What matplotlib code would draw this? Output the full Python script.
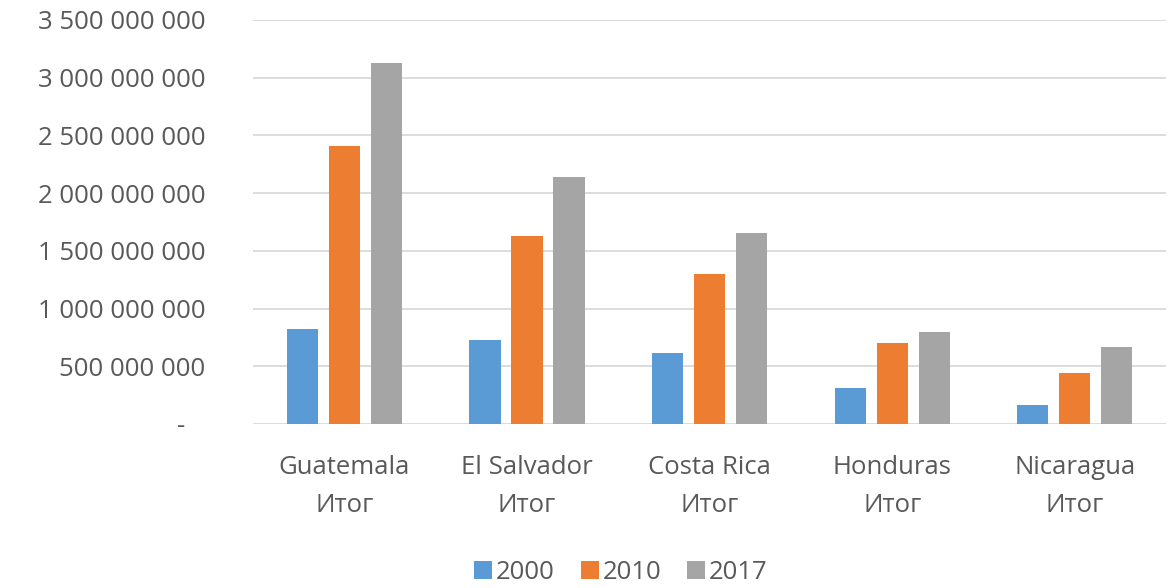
import matplotlib
matplotlib.use("Agg")
import matplotlib.pyplot as plt
import numpy as np
from matplotlib.ticker import FuncFormatter, MultipleLocator

categories = ["Guatemala\nИтог", "El Salvador\nИтог", "Costa Rica\nИтог", "Honduras\nИтог", "Nicaragua\nИтог"]
series_names = ["2000", "2010", "2017"]
v2000 = [0.82e9, 0.73e9, 0.615e9, 0.31e9, 0.162e9]
v2010 = [2.41e9, 1.63e9, 1.30e9, 0.705e9, 0.44e9]
v2017 = [3.13e9, 2.14e9, 1.655e9, 0.80e9, 0.67e9]
colors = ["#5b9bd5", "#ed7d31", "#a5a5a5"]

plt.rcParams['font.family'] = ['Open Sans', 'DejaVu Sans']
text_color = "#595959"
fs = 18.5

fig = plt.figure(figsize=(11.69, 5.88), dpi=100)
ax = fig.add_axes([0.2165, 0.279, 0.781, 0.687])

x = np.arange(len(categories))
bw = 0.17
step = 0.23
for i, (vals, name, c) in enumerate(zip([v2000, v2010, v2017], series_names, colors)):
    ax.bar(x + (i - 1) * step, vals, width=bw, color=c, label=name, zorder=3)

ax.set_xlim(-0.5, len(categories) - 0.5)
ax.set_ylim(0, 3.5e9)
ax.yaxis.set_major_locator(MultipleLocator(5e8))

def fmt(v, pos):
    if abs(v) < 1:
        return "-   "
    return f"{int(round(v)):,}".replace(",", " ")

ax.yaxis.set_major_formatter(FuncFormatter(fmt))
ax.grid(axis='y', color="#d9d9d9", linewidth=1.3, zorder=0)
for s in ax.spines.values():
    s.set_visible(False)
ax.tick_params(axis='y', length=0, pad=34.5, labelsize=fs, labelcolor=text_color)
ax.tick_params(axis='x', length=0, pad=22, labelsize=fs, labelcolor=text_color)
ax.set_xticks(x)
ax.set_xticklabels(categories, linespacing=1.7)

leg = fig.legend(loc='lower center', bbox_to_anchor=(0.531, 0.0), ncol=3, frameon=False,
                 fontsize=fs, handlelength=0.7, handleheight=0.7, handletextpad=0.15,
                 columnspacing=1.0, borderaxespad=0, borderpad=0.1)
for t in leg.get_texts():
    t.set_color(text_color)

fig.savefig("out.png", dpi=100, facecolor="white")
